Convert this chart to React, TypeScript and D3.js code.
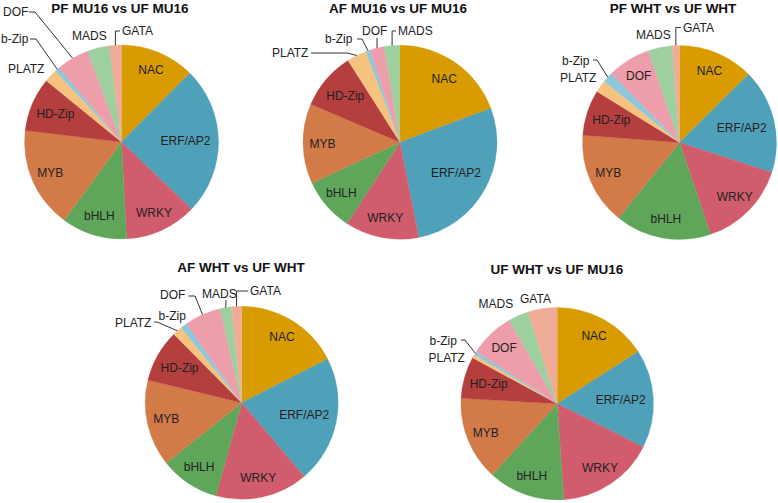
import { useMemo } from 'react';
import * as d3 from 'd3';

// transcription factor families, in slice order (clockwise from 12 o'clock)
const categories = ['NAC', 'ERF/AP2', 'WRKY', 'bHLH', 'MYB', 'HD-Zip', 'PLATZ', 'b-Zip', 'DOF', 'MADS', 'GATA'];

const colors = ['#d99c00', '#4fa1b9', '#d05c6d', '#5fa65b', '#d27a48', '#b53e3f', '#f5c27f', '#8ec7dc', '#ee9eaa', '#9dcf9f', '#f0ab96'];

const titles = ['PF MU16 vs UF MU16', 'AF MU16 vs UF MU16', 'PF WHT vs UF WHT', 'AF WHT vs UF WHT', 'UF WHT vs UF MU16'];

// share of each family (%)
const pfMu16 = [12.4, 24.7, 12.0, 10.9, 16.8, 9.0, 2.2, 0.8, 5.4, 3.7, 2.0];
const afMu16 = [19.3, 27.6, 12.3, 8.9, 13.3, 9.6, 3.3, 0.7, 2.4, 2.6, 0];
const pfWht = [12.6, 17.4, 14.8, 16.0, 15.4, 7.6, 2.1, 1.7, 7.2, 4.0, 1.2];
const afWht = [17.5, 21.3, 15.5, 10.0, 14.5, 8.8, 1.6, 1.1, 6.1, 1.9, 1.7];
const ufWhtMu16 = [15.9, 16.5, 16.5, 12.9, 14.1, 7.0, 0.6, 0.6, 7.6, 3.4, 4.9];

const series = [pfMu16, afMu16, pfWht, afWht, ufWhtMu16];

type Leader =
  | { mode: 'corner'; start: [number, number] }
  | { mode: 'elbow'; start: [number, number]; elbow: number }
  | { mode: 'straight'; start: [number, number] };

interface OutLabel {
  x: number;
  y: number;
  leader?: Leader;
}

interface PieLayout {
  cx: number;
  cy: number;
  r: number;
  titleX: number;
  titleY: number;
  outside: Record<string, OutLabel>;
}

const layouts: PieLayout[] = [
  {
    cx: 121.5, cy: 142, r: 97, titleX: 120, titleY: 13,
    outside: {
      GATA: { x: 122, y: 35, leader: { mode: 'corner', start: [120, 31] } },
      MADS: { x: 72, y: 39.5 },
      DOF: { x: 3, y: 16, leader: { mode: 'elbow', start: [29, 12], elbow: 35 } },
      'b-Zip': { x: 1, y: 42.5, leader: { mode: 'elbow', start: [30, 39], elbow: 36 } },
      PLATZ: { x: 8, y: 72.5 },
    },
  },
  {
    cx: 400, cy: 142.3, r: 97, titleX: 398, titleY: 13,
    outside: {
      MADS: { x: 398, y: 35, leader: { mode: 'corner', start: [396, 31] } },
      DOF: { x: 362, y: 35, leader: { mode: 'straight', start: [377, 38] } },
      'b-Zip': { x: 325, y: 43, leader: { mode: 'elbow', start: [357, 39], elbow: 362 } },
      PLATZ: { x: 272, y: 56.5, leader: { mode: 'elbow', start: [311, 53], elbow: 347 } },
    },
  },
  {
    cx: 679.5, cy: 142.5, r: 97, titleX: 673, titleY: 13,
    outside: {
      GATA: { x: 683, y: 31.5, leader: { mode: 'corner', start: [681, 27.5] } },
      MADS: { x: 636, y: 39 },
      'b-Zip': { x: 562, y: 64.5, leader: { mode: 'elbow', start: [593, 60], elbow: 597 } },
      PLATZ: { x: 560, y: 81.5 },
    },
  },
  {
    cx: 241.7, cy: 402.8, r: 96.5, titleX: 241, titleY: 272,
    outside: {
      GATA: { x: 250, y: 295, leader: { mode: 'corner', start: [248, 291] } },
      MADS: { x: 202, y: 298, leader: { mode: 'straight', start: [226, 300] } },
      DOF: { x: 160, y: 299, leader: { mode: 'elbow', start: [188.5, 296], elbow: 195 } },
      'b-Zip': { x: 158.5, y: 319.5 },
      PLATZ: { x: 115, y: 326.5, leader: { mode: 'elbow', start: [154, 322], elbow: 157 } },
    },
  },
  {
    cx: 557.2, cy: 403.7, r: 96.3, titleX: 557, titleY: 274,
    outside: {
      GATA: { x: 520, y: 303 },
      MADS: { x: 478.5, y: 308 },
      'b-Zip': { x: 429.5, y: 344.5, leader: { mode: 'elbow', start: [461, 340], elbow: 465 } },
      PLATZ: { x: 428.5, y: 361.5 },
    },
  },
];

// inner label distance as fraction of radius (Excel best-fit pulls wide labels in)
const labelFactor: Record<string, number> = { 'ERF/AP2': 0.66, 'HD-Zip': 0.74 };

const FONT = '"Liberation Sans", Arial, sans-serif';

function Pie({ values, title, layout }: { values: number[]; title: string; layout: PieLayout }) {
  const arcs = useMemo(() => {
    const pie = d3.pie<number>().sort(null).value(d => d).startAngle(0).endAngle(2 * Math.PI);
    return pie(values);
  }, [values]);

  const arc = d3.arc<d3.PieArcDatum<number>>().innerRadius(0).outerRadius(layout.r);
  const { cx, cy, r } = layout;

  const edgePoint = (a: d3.PieArcDatum<number>): [number, number] => {
    const mid = (a.startAngle + a.endAngle) / 2;
    return [cx + r * Math.sin(mid), cy - r * Math.cos(mid)];
  };

  return (
    <g>
      <text x={layout.titleX} y={layout.titleY} textAnchor="middle" fontFamily={FONT}
        fontWeight="bold" fontSize={13.5} fill="#111">
        {title}
      </text>
      <g transform={`translate(${cx},${cy})`}>
        {arcs.map((a, i) => a.value > 0 && (
          <path key={categories[i]} d={arc(a) || ''} fill={colors[i]} stroke={colors[i]} strokeWidth={0.3} />
        ))}
      </g>
      {arcs.map((a, i) => {
        if (a.value <= 0) return null;
        const name = categories[i];
        const out = layout.outside[name];
        if (out) {
          let pts: [number, number][] = [];
          if (out.leader) {
            const p = edgePoint(a);
            const L = out.leader;
            if (L.mode === 'corner') pts = [L.start, [p[0], L.start[1]], p];
            else if (L.mode === 'elbow') pts = [L.start, [L.elbow, L.start[1]], p];
            else pts = [L.start, p];
          }
          return (
            <g key={name}>
              {pts.length > 0 && (
                <path d={d3.line()(pts) || ''} fill="none" stroke="#333" strokeWidth={1} />
              )}
              <text x={out.x} y={out.y} fontFamily={FONT} fontSize={12} fill="#222">{name}</text>
            </g>
          );
        }
        const mid = (a.startAngle + a.endAngle) / 2;
        const k = (labelFactor[name] ?? 0.8) * r;
        return (
          <text key={name} x={cx + k * Math.sin(mid)} y={cy - k * Math.cos(mid)} textAnchor="middle"
            dominantBaseline="central" fontFamily={FONT} fontSize={12} fill="#222">
            {name}
          </text>
        );
      })}
    </g>
  );
}

export default function App() {
  return (
    <svg width={778} height={503} style={{ position: 'absolute', left: 0, top: 0, background: '#fff' }}>
      <rect width={778} height={503} fill="#fff" />
      {series.map((values, i) => (
        <Pie key={titles[i]} values={values} title={titles[i]} layout={layouts[i]} />
      ))}
    </svg>
  );
}
